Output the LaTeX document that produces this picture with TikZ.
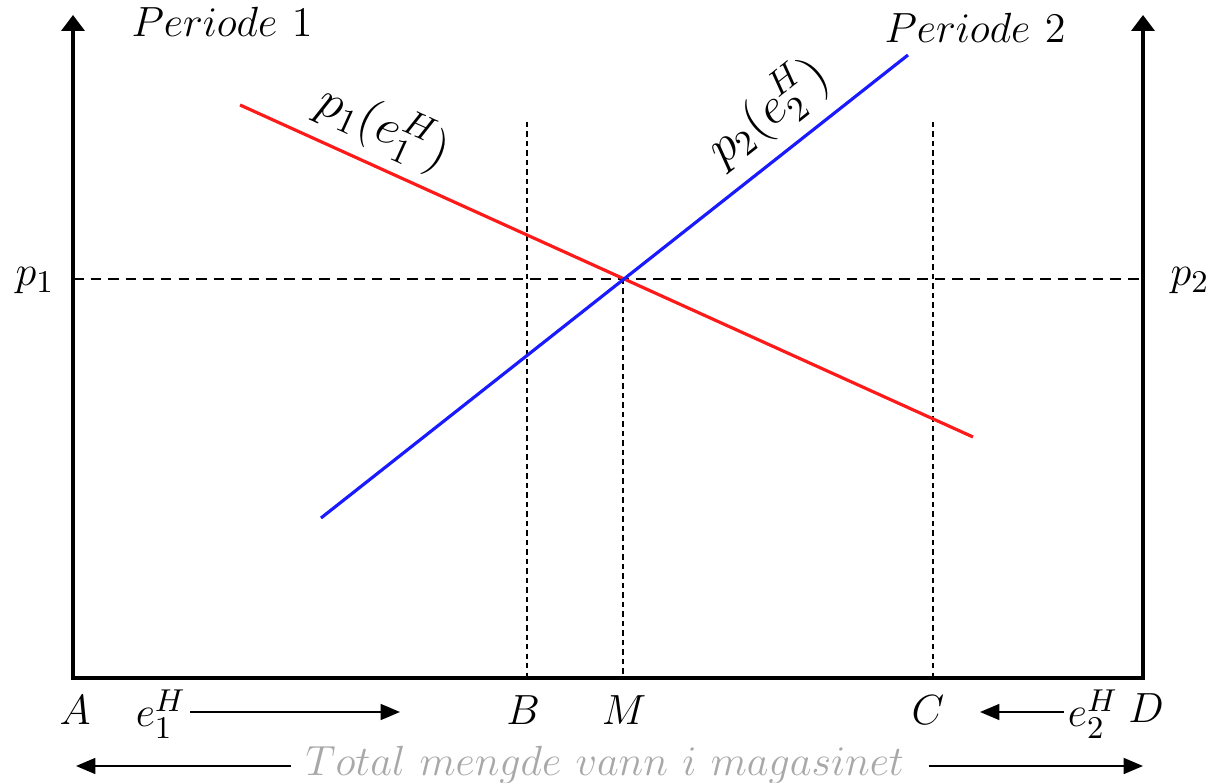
\documentclass[tikz,border=0pt]{standalone}
\usepackage{xcolor}
\usepackage{tikz}
\usepackage{amsmath}
\usetikzlibrary{arrows.meta}
\definecolor{magred}{HTML}{ff1a1a}
\definecolor{magblue}{HTML}{1a1aff}
\definecolor{maggray}{HTML}{a8a8a8}

\begin{document}
\begin{tikzpicture}[x=0.01cm,y=-0.01cm,
  axis/.style={line width=0.95pt,{Triangle[width=6.5pt,length=4.5pt]}-{Triangle[width=6.5pt,length=4.5pt]}},
  arr/.style={line width=0.6pt,-{Triangle[width=4.5pt,length=5.5pt]}},
  pline/.style={line width=0.8pt,dash pattern=on 3pt off 2pt},
  qline/.style={line width=0.45pt,dash pattern=on 1.5pt off 1.2pt},
  curve/.style={line width=0.9pt},
  lab/.style={font=\fontsize{12.5}{15}\selectfont,inner sep=1pt}]
  \useasboundingbox (0,0) rectangle (1219,783);
  \coordinate (A) at (73,678);
  \coordinate (D) at (1143,678);
  \coordinate (Atop) at (73,15);
  \coordinate (Dtop) at (1143,15);
  \coordinate (M) at (623,279);
  \coordinate (Btop) at (527,122);
  \coordinate (Ctop) at (933,122);
  \coordinate (r0) at (240,105);
  \coordinate (r1) at (973,437);
  \coordinate (b0) at (321,518);
  \coordinate (b1) at (908,55);

  \draw[pline] (A |- M) -- (D |- M);
  \draw[qline] (Btop) -- (Btop |- A);
  \draw[qline] (Ctop) -- (Ctop |- A);
  \draw[qline] (M) -- (M |- A);
  \draw[curve,magred] (r0) -- (r1);
  \draw[curve,magblue] (b0) -- (b1);
  \draw[axis] (Atop) -- (A) -- (D) -- (Dtop);

  \node[lab] (per1) at (222,22) {$Periode\ 1$};
  \node[lab] (per2) at (975,28) {$Periode\ 2$};
  \node[lab] (lp1) at (35,281) {$p_1$};
  \node[lab] (lp2) at (1190,281) {$p_2$};
  \node[lab,font=\Large,rotate=-24.4] (dem1) at (384,127) {$p_1(e_1^H)$};
  \node[lab,font=\Large,rotate=38.3] (dem2) at (768,112) {$p_2(e_2^H)$};

  \node[lab] (lA) at (75,710) {$A$};
  \node[lab] (lB) at (523,710) {$B$};
  \node[lab] (lM) at (624,710) {$M$};
  \node[lab] (lC) at (928,710) {$C$};
  \node[lab] (lD) at (1146,708) {$D$};
  \node[lab] (e1) at (161,714) {$e_1^H$};
  \node[lab] (e2) at (1093,714) {$e_2^H$};
  \coordinate (e1end) at (400,712);
  \coordinate (e2end) at (980,712);
  \draw[arr] (e1.east |- e1end) -- (e1end);
  \draw[arr] (e2.west |- e2end) -- (e2end);

  \node[lab,text=maggray] (tot) at (605,765) {$Total\ mengde\ vann\ i\ magasinet$};
  \coordinate (totL) at (76,766);
  \coordinate (totR) at (1143,766);
  \draw[arr] ([xshift=-0.1cm]tot.west |- totL) -- (totL);
  \draw[arr] ([xshift=0.2cm]tot.east |- totR) -- (totR);
\end{tikzpicture}
\end{document}
